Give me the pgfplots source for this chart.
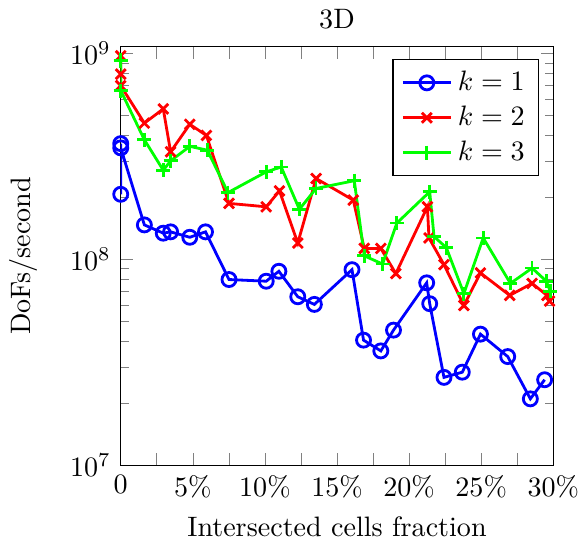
\documentclass[border=0pt]{standalone}
\usepackage{pgfplots}
\pgfplotsset{compat=1.18}
\begin{document}
\begin{tikzpicture}
\begin{axis}[
  scale only axis,
  width=154pt, height=149pt,
  ymode=log,
  xmin=0, xmax=0.3,
  ymin=1e7, ymax=1.08e9,
  xtick={0,0.025,0.05,0.075,0.1,0.125,0.15,0.175,0.2,0.225,0.25,0.275,0.3},
  xticklabels={0,,5\%,,10\%,,15\%,,20\%,,25\%,,30\%},
  xticklabel style={inner xsep=0pt},
  ytick={1e7,1e8,1e9},
  title={3D},
  title style={yshift=-3.3pt},
  xlabel={Intersected cells fraction},
  ylabel={DoFs/second},
  ylabel style={at={(axis description cs:-0.225,0.5)}, anchor=center},
  legend style={at={(0.968,0.97)}, anchor=north east},
  legend cell align=left,
  every axis plot/.append style={line width=1pt},
  mark size=2.5pt,
]
\addplot[blue, mark=o] coordinates {
(0,2.07e8) (0,3.65e8) (0,3.48e8)
(0.0164,1.47e8) (0.0295,1.34e8) (0.0346,1.36e8) (0.0479,1.28e8) (0.0588,1.36e8)
(0.0751,7.98e7) (0.1009,7.83e7) (0.1097,8.75e7) (0.1228,6.58e7) (0.1343,6.04e7)
(0.1604,8.91e7) (0.1684,4.05e7) (0.1804,3.59e7) (0.1892,4.53e7) (0.2122,7.69e7)
(0.2143,6.09e7) (0.2242,2.67e7) (0.2369,2.83e7) (0.2495,4.33e7) (0.2684,3.37e7)
(0.2841,2.10e7) (0.2940,2.60e7)
};
\addlegendentry{$k=1$}
\addplot[red, mark=x] coordinates {
(0,9.75e8) (0,7.94e8) (0,6.98e8)
(0.0164,4.59e8) (0.0295,5.38e8) (0.0346,3.33e8) (0.0479,4.53e8) (0.0594,4.00e8)
(0.0751,1.87e8) (0.1009,1.80e8) (0.1101,2.15e8) (0.1228,1.20e8) (0.1355,2.47e8)
(0.1613,1.94e8) (0.1689,1.13e8) (0.1804,1.13e8) (0.1908,8.53e7) (0.2127,1.80e8)
(0.2138,1.27e8) (0.2242,9.42e7) (0.2380,5.97e7) (0.2495,8.59e7) (0.2698,6.68e7)
(0.2853,7.64e7) (0.2957,6.68e7) (0.2974,6.27e7)
};
\addlegendentry{$k=2$}
\addplot[green, mark=+] coordinates {
(0,9.30e8) (0,9.20e8) (0,6.61e8)
(0.0164,3.81e8) (0.0295,2.71e8) (0.0346,3.01e8) (0.0479,3.54e8) (0.0601,3.39e8)
(0.0744,2.11e8) (0.1009,2.66e8) (0.1113,2.81e8) (0.1239,1.75e8) (0.1355,2.21e8)
(0.1620,2.41e8) (0.1689,1.04e8) (0.1816,9.49e7) (0.1915,1.50e8) (0.2143,2.13e8)
(0.2173,1.29e8) (0.2258,1.14e8) (0.2380,6.82e7) (0.2514,1.27e8) (0.2703,7.64e7)
(0.2853,9.07e7) (0.2952,7.83e7) (0.2979,7.00e7)
};
\addlegendentry{$k=3$}
\end{axis}
\end{tikzpicture}
\end{document}
